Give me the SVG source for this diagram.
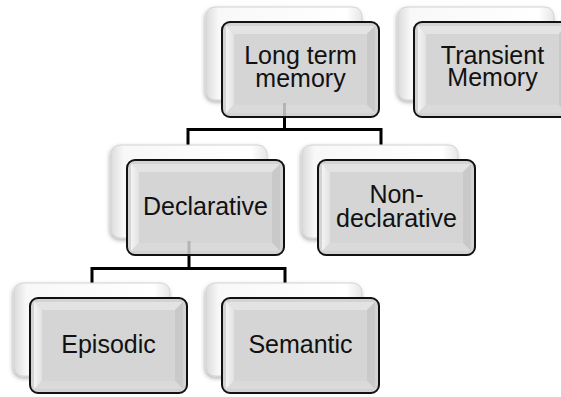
<svg xmlns="http://www.w3.org/2000/svg" width="561" height="397" viewBox="0 0 561 397">
  <defs>
    <linearGradient id="backFill" x1="0" y1="0" x2="1" y2="0">
      <stop offset="0" stop-color="#dcdcdc"/>
      <stop offset="0.08" stop-color="#f8f8f8"/>
      <stop offset="0.9" stop-color="#ffffff"/>
      <stop offset="1" stop-color="#e6e6e6"/>
    </linearGradient>
    <linearGradient id="leftFace" x1="0" y1="0" x2="1" y2="0">
      <stop offset="0" stop-color="#f4f4f4"/>
      <stop offset="1" stop-color="#e2e2e2"/>
    </linearGradient>
    <filter id="softShadow" x="-10%" y="-10%" width="120%" height="125%">
      <feDropShadow dx="-1" dy="2" stdDeviation="2" flood-color="#000" flood-opacity="0.3"/>
    </filter>
    <!-- one card: white back plate plus bevelled grey front plate -->
    <g id="card">
      <rect x="-16" y="-15" width="156" height="93" rx="9" fill="url(#backFill)" stroke="#d2d2d2" stroke-width="1" filter="url(#softShadow)"/>
      <rect x="0" y="0" width="157" height="95" rx="8" fill="#d3d3d3"/>
      <polygon points="4,4 153,4 145,12 12,12" fill="#e3e3e3"/>
      <polygon points="4,4 12,12 12,83 4,91" fill="url(#leftFace)"/>
      <polygon points="153,4 153,91 145,83 145,12" fill="#c9c9c9"/>
      <polygon points="4,91 12,83 145,83 153,91" fill="#dadada"/>
      <rect x="12" y="12" width="133" height="71" fill="#d5d5d5"/>
      <rect x="0" y="0" width="157" height="95" rx="8" fill="none" stroke="#111" stroke-width="2"/>
    </g>
  </defs>
  <style>
    .lbl { font-family: "Liberation Sans", Arial, sans-serif; font-size: 25px; fill: #111; text-anchor: middle; }
    .wire { fill: none; stroke: #000; stroke-width: 3; }
    .ghost { stroke: #b4b4b4; stroke-width: 3; }
  </style>

  <rect width="561" height="397" fill="#ffffff"/>

  <g id="connectors">
    <polyline class="wire" points="284.5,100 284.5,129.5"/>
    <polyline class="wire" points="188,145 188,129.5 381,129.5 381,145"/>
    <polyline class="wire" points="189,238 189,268.5"/>
    <polyline class="wire" points="92,283 92,268.5 285,268.5 285,283"/>
  </g>

  <g id="long-term-memory">
    <use href="#card" x="222" y="22"/>
    <line class="ghost" x1="284.5" y1="103" x2="284.5" y2="116"/>
    <text class="lbl" x="300.5" y="64">Long term</text>
    <text class="lbl" x="300.5" y="87">memory</text>
  </g>

  <g id="transient-memory">
    <use href="#card" x="414" y="22"/>
    <text class="lbl" x="492.5" y="64">Transient</text>
    <text class="lbl" x="492.5" y="86">Memory</text>
  </g>

  <g id="declarative">
    <use href="#card" x="127" y="160"/>
    <line class="ghost" x1="189" y1="241" x2="189" y2="254"/>
    <text class="lbl" x="205.5" y="215">Declarative</text>
  </g>

  <g id="non-declarative">
    <use href="#card" x="318" y="160"/>
    <text class="lbl" x="396.5" y="203">Non-</text>
    <text class="lbl" x="396.5" y="227">declarative</text>
  </g>

  <g id="episodic">
    <use href="#card" x="30" y="298"/>
    <text class="lbl" x="108.5" y="353">Episodic</text>
  </g>

  <g id="semantic">
    <use href="#card" x="222" y="298"/>
    <text class="lbl" x="300.5" y="353">Semantic</text>
  </g>
</svg>
